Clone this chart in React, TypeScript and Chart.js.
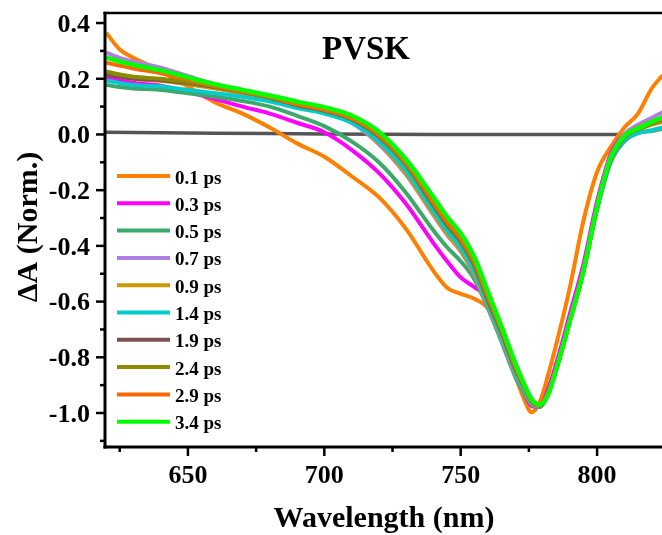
import React, { useEffect, useRef } from "react";
import { Chart, registerables } from "chart.js";

Chart.register(...registerables);

// ---- data ----
const wavelengths = [620, 625, 630, 640, 650, 660, 670, 680, 690, 700, 710, 720, 730, 740, 745, 750, 755, 760, 765, 770, 773, 776, 779, 782, 786, 790, 795, 800, 805, 810, 815, 820, 824];

const seriesLabels = ["0.1 ps", "0.3 ps", "0.5 ps", "0.7 ps", "0.9 ps", "1.4 ps", "1.9 ps", "2.4 ps", "2.9 ps", "3.4 ps"];
const seriesColors = ["#FF8000", "#FF00FF", "#3DA86C", "#B07EE0", "#CC9900", "#00CCCC", "#7D5050", "#8C8C00", "#FF6600", "#00FF00"];

const ps01 = [0.365, 0.305, 0.275, 0.228, 0.172, 0.115, 0.075, 0.025, -0.032, -0.08, -0.15, -0.225, -0.34, -0.49, -0.55, -0.572, -0.59, -0.625, -0.725, -0.865, -0.945, -0.997, -0.96, -0.865, -0.715, -0.55, -0.31, -0.135, -0.045, 0.025, 0.075, 0.165, 0.212];
const ps03 = [0.207, 0.195, 0.185, 0.175, 0.152, 0.127, 0.1, 0.075, 0.042, 0.008, -0.055, -0.138, -0.25, -0.39, -0.455, -0.513, -0.548, -0.588, -0.705, -0.845, -0.922, -0.975, -0.978, -0.915, -0.79, -0.645, -0.465, -0.24, -0.07, 0.0, 0.028, 0.042, 0.055];
const ps05 = [0.178, 0.17, 0.165, 0.16, 0.148, 0.135, 0.12, 0.1, 0.067, 0.03, -0.025, -0.1, -0.21, -0.345, -0.405, -0.455, -0.52, -0.625, -0.745, -0.87, -0.925, -0.97, -0.978, -0.93, -0.81, -0.67, -0.49, -0.27, -0.1, -0.025, 0.005, 0.012, 0.02];
const ps07 = [0.294, 0.275, 0.262, 0.24, 0.21, 0.18, 0.155, 0.13, 0.098, 0.078, 0.042, -0.035, -0.145, -0.29, -0.36, -0.42, -0.505, -0.62, -0.735, -0.86, -0.915, -0.966, -0.976, -0.93, -0.81, -0.665, -0.485, -0.255, -0.08, 0.0, 0.035, 0.06, 0.08];
const ps09 = [0.22, 0.21, 0.2, 0.193, 0.18, 0.165, 0.148, 0.128, 0.1, 0.08, 0.045, -0.03, -0.14, -0.285, -0.355, -0.415, -0.5, -0.615, -0.73, -0.855, -0.912, -0.964, -0.975, -0.93, -0.81, -0.67, -0.49, -0.26, -0.088, -0.012, 0.015, 0.035, 0.045];
const ps14 = [0.194, 0.185, 0.178, 0.172, 0.16, 0.148, 0.135, 0.118, 0.095, 0.075, 0.042, -0.025, -0.13, -0.275, -0.345, -0.405, -0.49, -0.61, -0.725, -0.85, -0.91, -0.962, -0.974, -0.93, -0.81, -0.67, -0.49, -0.265, -0.095, -0.02, 0.005, 0.015, 0.025];
const ps19 = [0.215, 0.207, 0.2, 0.195, 0.185, 0.17, 0.152, 0.132, 0.105, 0.085, 0.055, -0.008, -0.11, -0.255, -0.325, -0.385, -0.47, -0.595, -0.71, -0.84, -0.9, -0.958, -0.973, -0.93, -0.81, -0.67, -0.49, -0.26, -0.088, -0.01, 0.02, 0.04, 0.055];
const ps24 = [0.226, 0.215, 0.207, 0.2, 0.188, 0.172, 0.153, 0.133, 0.107, 0.087, 0.057, -0.005, -0.107, -0.25, -0.32, -0.38, -0.465, -0.59, -0.705, -0.835, -0.9, -0.957, -0.973, -0.93, -0.81, -0.67, -0.49, -0.26, -0.087, -0.01, 0.018, 0.038, 0.05];
const ps29 = [0.258, 0.247, 0.237, 0.22, 0.198, 0.175, 0.155, 0.135, 0.11, 0.09, 0.06, 0.0, -0.1, -0.24, -0.31, -0.37, -0.455, -0.58, -0.7, -0.83, -0.895, -0.955, -0.972, -0.93, -0.81, -0.67, -0.49, -0.26, -0.085, -0.005, 0.025, 0.045, 0.06];
const ps34 = [0.276, 0.262, 0.25, 0.23, 0.205, 0.18, 0.16, 0.14, 0.118, 0.098, 0.068, 0.01, -0.09, -0.225, -0.295, -0.355, -0.44, -0.565, -0.69, -0.82, -0.89, -0.95, -0.97, -0.935, -0.81, -0.67, -0.49, -0.26, -0.083, -0.005, 0.022, 0.045, 0.062];

const seriesValues = [ps01, ps03, ps05, ps07, ps09, ps14, ps19, ps24, ps29, ps34];

const baselineWavelengths = [620, 640, 660, 680, 700, 720, 740, 760, 780, 800, 808];
const baselineValues = [0.008, 0.006, 0.004, 0.003, 0.002, 0.001, 0.0, 0.0, 0.0, 0.0, 0.0];

const yMajorTicks = [-1.0, -0.8, -0.6, -0.4, -0.2, 0.0, 0.2, 0.4];
const yMinorTicks = [-1.1, -0.9, -0.7, -0.5, -0.3, -0.1, 0.1, 0.3];
const xMajorTicks = [650, 700, 750, 800];
const xMinorTicks = [625, 675, 725, 775];

const chartTitle = "PVSK";
const xTitle = "Wavelength (nm)";
const yTitle = "ΔA (Norm.)";

const FONT = '"Liberation Serif", "Times New Roman", serif';

const framePlugin = {
  id: "frame",
  afterDatasetsDraw(chart: any) {
    const { ctx, chartArea: ca, scales } = chart;
    const xs = scales.x;
    const ys = scales.y;
    ctx.save();
    ctx.strokeStyle = "#000";
    ctx.fillStyle = "#000";
    ctx.lineCap = "butt";

    // ticks
    ctx.lineWidth = 2.5;
    yMajorTicks.forEach((v) => {
      const py = ys.getPixelForValue(v);
      ctx.beginPath();
      ctx.moveTo(ca.left - 9, py);
      ctx.lineTo(ca.left, py);
      ctx.stroke();
    });
    yMinorTicks.forEach((v) => {
      const py = ys.getPixelForValue(v);
      ctx.beginPath();
      ctx.moveTo(ca.left - 5, py);
      ctx.lineTo(ca.left, py);
      ctx.stroke();
    });
    xMajorTicks.forEach((v) => {
      const px = xs.getPixelForValue(v);
      ctx.beginPath();
      ctx.moveTo(px, ca.bottom);
      ctx.lineTo(px, ca.bottom + 9);
      ctx.stroke();
    });
    xMinorTicks.forEach((v) => {
      const px = xs.getPixelForValue(v);
      ctx.beginPath();
      ctx.moveTo(px, ca.bottom);
      ctx.lineTo(px, ca.bottom + 5);
      ctx.stroke();
    });

    // axis lines
    ctx.lineWidth = 3;
    ctx.beginPath();
    ctx.moveTo(ca.left, ca.top - 1.25);
    ctx.lineTo(ca.left, ca.bottom + 1.5);
    ctx.stroke();
    ctx.beginPath();
    ctx.moveTo(ca.left - 1.5, ca.bottom);
    ctx.lineTo(ca.right + 2, ca.bottom);
    ctx.stroke();
    ctx.lineWidth = 2.5;
    ctx.beginPath();
    ctx.moveTo(ca.left - 1.5, ca.top);
    ctx.lineTo(ca.right + 2, ca.top);
    ctx.stroke();

    // tick labels
    ctx.font = `bold 26px ${FONT}`;
    ctx.textAlign = "right";
    ctx.textBaseline = "alphabetic";
    yMajorTicks.forEach((v) => {
      const py = ys.getPixelForValue(v);
      ctx.fillText(v.toFixed(1), ca.left - 15, py + 8.8);
    });
    ctx.textAlign = "center";
    xMajorTicks.forEach((v) => {
      const px = xs.getPixelForValue(v);
      ctx.fillText(String(v), px, ca.bottom + 36);
    });

    // axis titles
    ctx.font = `bold 30px ${FONT}`;
    ctx.textAlign = "center";
    ctx.fillText(xTitle, 384, 527);
    ctx.save();
    ctx.translate(37, 227);
    ctx.rotate(-Math.PI / 2);
    ctx.fillText(yTitle, 0, 0);
    ctx.restore();

    // chart title
    ctx.font = `bold 33px ${FONT}`;
    ctx.textAlign = "center";
    ctx.fillText(chartTitle, 366, 59);

    // legend
    ctx.font = `bold 19px ${FONT}`;
    ctx.textAlign = "left";
    seriesLabels.forEach((lab, i) => {
      const ly = 176 + i * 27.3;
      ctx.strokeStyle = seriesColors[i];
      ctx.lineWidth = 4;
      ctx.beginPath();
      ctx.moveTo(117, ly);
      ctx.lineTo(170, ly);
      ctx.stroke();
      ctx.fillStyle = "#000";
      ctx.fillText(lab, 175, ly + 7.5);
    });

    ctx.restore();
  },
};

export default function App() {
  const canvasRef = useRef<HTMLCanvasElement | null>(null);

  useEffect(() => {
    document.body.style.margin = "0";
    document.body.style.overflow = "hidden";
    const canvas = canvasRef.current;
    if (!canvas) return;

    const datasets: any[] = seriesValues.map((vals, i) => ({
      label: seriesLabels[i],
      data: wavelengths.map((w, j) => ({ x: w, y: vals[j] })),
      borderColor: seriesColors[i],
      backgroundColor: seriesColors[i],
      borderWidth: i === 9 ? 4.5 : 4,
      pointRadius: 0,
      cubicInterpolationMode: "monotone",
      fill: false,
      order: 10 - i,
    }));
    datasets.push({
      label: "baseline",
      data: baselineWavelengths.map((w, j) => ({ x: w, y: baselineValues[j] })),
      borderColor: "#555555",
      backgroundColor: "#555555",
      borderWidth: 3.5,
      pointRadius: 0,
      fill: false,
      order: 20,
    });

    const chart = new Chart(canvas, {
      type: "line",
      data: { datasets },
      options: {
        responsive: false,
        animation: false,
        layout: { padding: { left: 105, top: 13, right: 0, bottom: 88 } },
        plugins: {
          legend: { display: false },
          tooltip: { enabled: false },
          title: { display: false },
        },
        scales: {
          x: { type: "linear", min: 619.6, max: 823.8, display: false },
          y: { type: "linear", min: -1.122, max: 0.436, display: false },
        },
      },
      plugins: [framePlugin],
    });

    return () => chart.destroy();
  }, []);

  return (
    <div style={{ width: 662, height: 535, background: "#fff" }}>
      <canvas ref={canvasRef} width={662} height={535} style={{ display: "block" }} />
    </div>
  );
}
